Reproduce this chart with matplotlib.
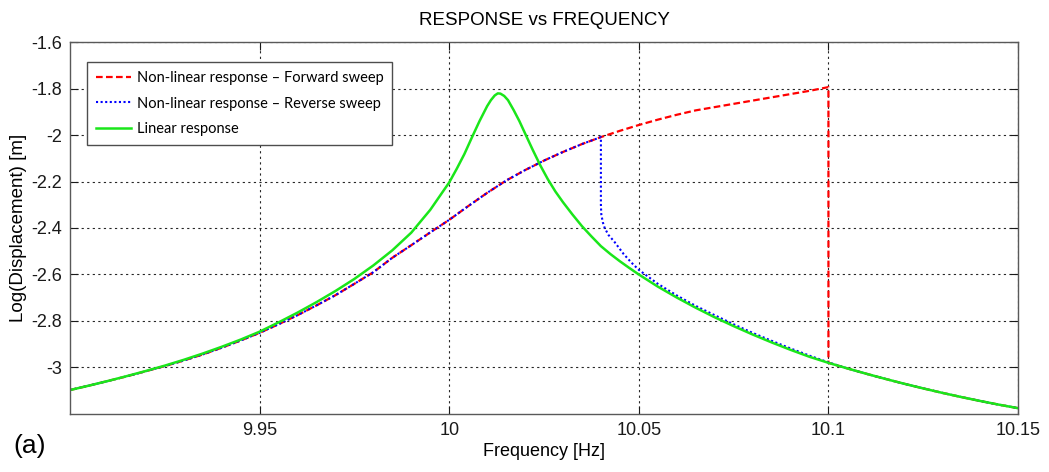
import numpy as np
import matplotlib.pyplot as plt
from matplotlib.ticker import FormatStrFormatter

plt.rcParams['font.family'] = ['Liberation Sans', 'DejaVu Sans']
plt.rcParams['axes.unicode_minus'] = False

# linear response, log10 displacement vs frequency
lin_freq = [9.900, 9.905, 9.910, 9.915, 9.920, 9.925, 9.930, 9.935, 9.940, 9.945,
            9.950, 9.955, 9.960, 9.965, 9.970, 9.975, 9.980, 9.985, 9.990, 9.995,
            10.000, 10.002, 10.004, 10.006, 10.008, 10.010, 10.011, 10.012, 10.0128,
            10.0135, 10.0145, 10.0155, 10.017, 10.0185, 10.020, 10.022, 10.024,
            10.026, 10.028, 10.030, 10.0325, 10.035, 10.0375, 10.040, 10.0425,
            10.045, 10.0475, 10.050, 10.055, 10.060, 10.065, 10.070, 10.075,
            10.080, 10.085, 10.090, 10.095, 10.100, 10.105, 10.110, 10.115,
            10.120, 10.125, 10.130, 10.135, 10.140, 10.145, 10.150]
lin_disp = [-3.097, -3.078, -3.058, -3.037, -3.015, -2.992, -2.967, -2.940, -2.911, -2.880,
            -2.846, -2.806, -2.764, -2.719, -2.671, -2.619, -2.561, -2.496, -2.420, -2.322,
            -2.204, -2.145, -2.082, -2.010, -1.940, -1.876, -1.850, -1.830, -1.821,
            -1.822, -1.832, -1.850, -1.893, -1.940, -1.993, -2.063, -2.130,
            -2.190, -2.243, -2.289, -2.342, -2.392, -2.436, -2.478, -2.512,
            -2.543, -2.572, -2.600, -2.652, -2.699, -2.743, -2.784, -2.822,
            -2.858, -2.892, -2.924, -2.954, -2.980, -3.004, -3.027, -3.049,
            -3.070, -3.090, -3.109, -3.127, -3.144, -3.160, -3.175]

# upper branch of the non-linear response (shared by both sweeps)
upper_freq = [9.900, 9.905, 9.910, 9.915, 9.920, 9.925, 9.930, 9.935, 9.940, 9.945,
              9.950, 9.955, 9.960, 9.965, 9.970, 9.975, 9.980, 9.985, 9.990, 9.995,
              10.000, 10.005, 10.010, 10.015, 10.020, 10.025, 10.030, 10.035, 10.040,
              10.045, 10.050, 10.055, 10.060, 10.065, 10.070, 10.075, 10.080,
              10.085, 10.090, 10.095, 10.100]
upper_disp = [-3.097, -3.078, -3.058, -3.038, -3.016, -2.994, -2.970, -2.944, -2.915, -2.884,
              -2.851, -2.814, -2.775, -2.733, -2.689, -2.640, -2.590, -2.528, -2.474, -2.419,
              -2.365, -2.306, -2.249, -2.196, -2.151, -2.110, -2.073, -2.039, -2.009,
              -1.982, -1.957, -1.934, -1.913, -1.894, -1.880, -1.866, -1.852,
              -1.838, -1.824, -1.810, -1.794]

# lower branch reached by the reverse sweep after the jump at 10.04 Hz
lower_freq = [10.040, 10.0401, 10.0405, 10.041, 10.042, 10.0435, 10.046, 10.048,
              10.050, 10.055, 10.060, 10.065, 10.070, 10.075, 10.080, 10.085,
              10.090, 10.095, 10.100]
lower_disp = [-2.300, -2.340, -2.375, -2.400, -2.430, -2.458, -2.512, -2.548,
              -2.580, -2.640, -2.690, -2.735, -2.775, -2.814, -2.851, -2.885,
              -2.918, -2.949, -2.978]

# forward sweep drops from the upper branch at 10.1 Hz
jump_fwd = 10.100
jump_rev = 10.040

lf = np.array(lin_freq)
ld = np.array(lin_disp)
uf = np.array(upper_freq)
ud = np.array(upper_disp)
tail = lf >= jump_fwd

fwd_freq = np.concatenate([uf, lf[tail]])
fwd_disp = np.concatenate([ud, ld[tail]])
keep = uf <= jump_rev
rev_freq = np.concatenate([uf[keep], lower_freq, lf[tail & (lf > jump_fwd)]])
rev_disp = np.concatenate([ud[keep], lower_disp, ld[tail & (lf > jump_fwd)]])

fig = plt.figure(figsize=(10.49, 4.72), dpi=100)
ax = fig.add_axes([0.0667, 0.1229, 0.9038, 0.7881])

ax.plot(fwd_freq, fwd_disp, color=(1, 0, 0), ls=(0, (3, 1.5)), lw=1.6,
        label='Non-linear response \u2013 Forward sweep')
ax.plot(rev_freq, rev_disp, color=(0, 0, 1), ls=(0, (1, 1.2)), lw=1.5,
        label='Non-linear response \u2013 Reverse sweep')
ax.plot(lf, ld, color=(0.1, 0.9, 0.1), lw=1.8, label='Linear response')

ax.set_xlim(9.9, 10.15)
ax.set_ylim(-3.2, -1.6)
ax.set_xticks([9.95, 10.0, 10.05, 10.1, 10.15])
ax.set_yticks(np.arange(-3.0, -1.59, 0.2))
ax.xaxis.set_major_formatter(FormatStrFormatter('%g'))
ax.set_yticklabels(['-3', '-2.8', '-2.6', '-2.4', '-2.2', '-2', '-1.8', '-1.6'])
ax.tick_params(direction='in', top=True, right=True, length=6, width=0.8,
               labelsize=13, colors='0.1', pad=6)
for s in ax.spines.values():
    s.set_color('0.35')
    s.set_linewidth(1.0)
ax.grid(True, color='k', ls=(0, (2, 3)), lw=0.8, alpha=0.85)

ax.set_title('RESPONSE vs FREQUENCY', fontsize=13.5, pad=12)
ax.set_xlabel('Frequency [Hz]', fontsize=13, labelpad=3)
ax.set_ylabel('Log(Displacement) [m]', fontsize=13.5, labelpad=3)

leg = ax.legend(loc='upper left', bbox_to_anchor=(0.018, 0.946), borderaxespad=0,
                fancybox=False, edgecolor='0.3', framealpha=1, handlelength=2.4,
                handletextpad=0.4, labelspacing=0.8, borderpad=0.6,
                prop={'family': 'Lato', 'size': 10.5})
leg.get_frame().set_linewidth(1.0)

fig.text(0.013, 0.04, '(a)', fontsize=19)

fig.savefig('out.png', dpi=100)
